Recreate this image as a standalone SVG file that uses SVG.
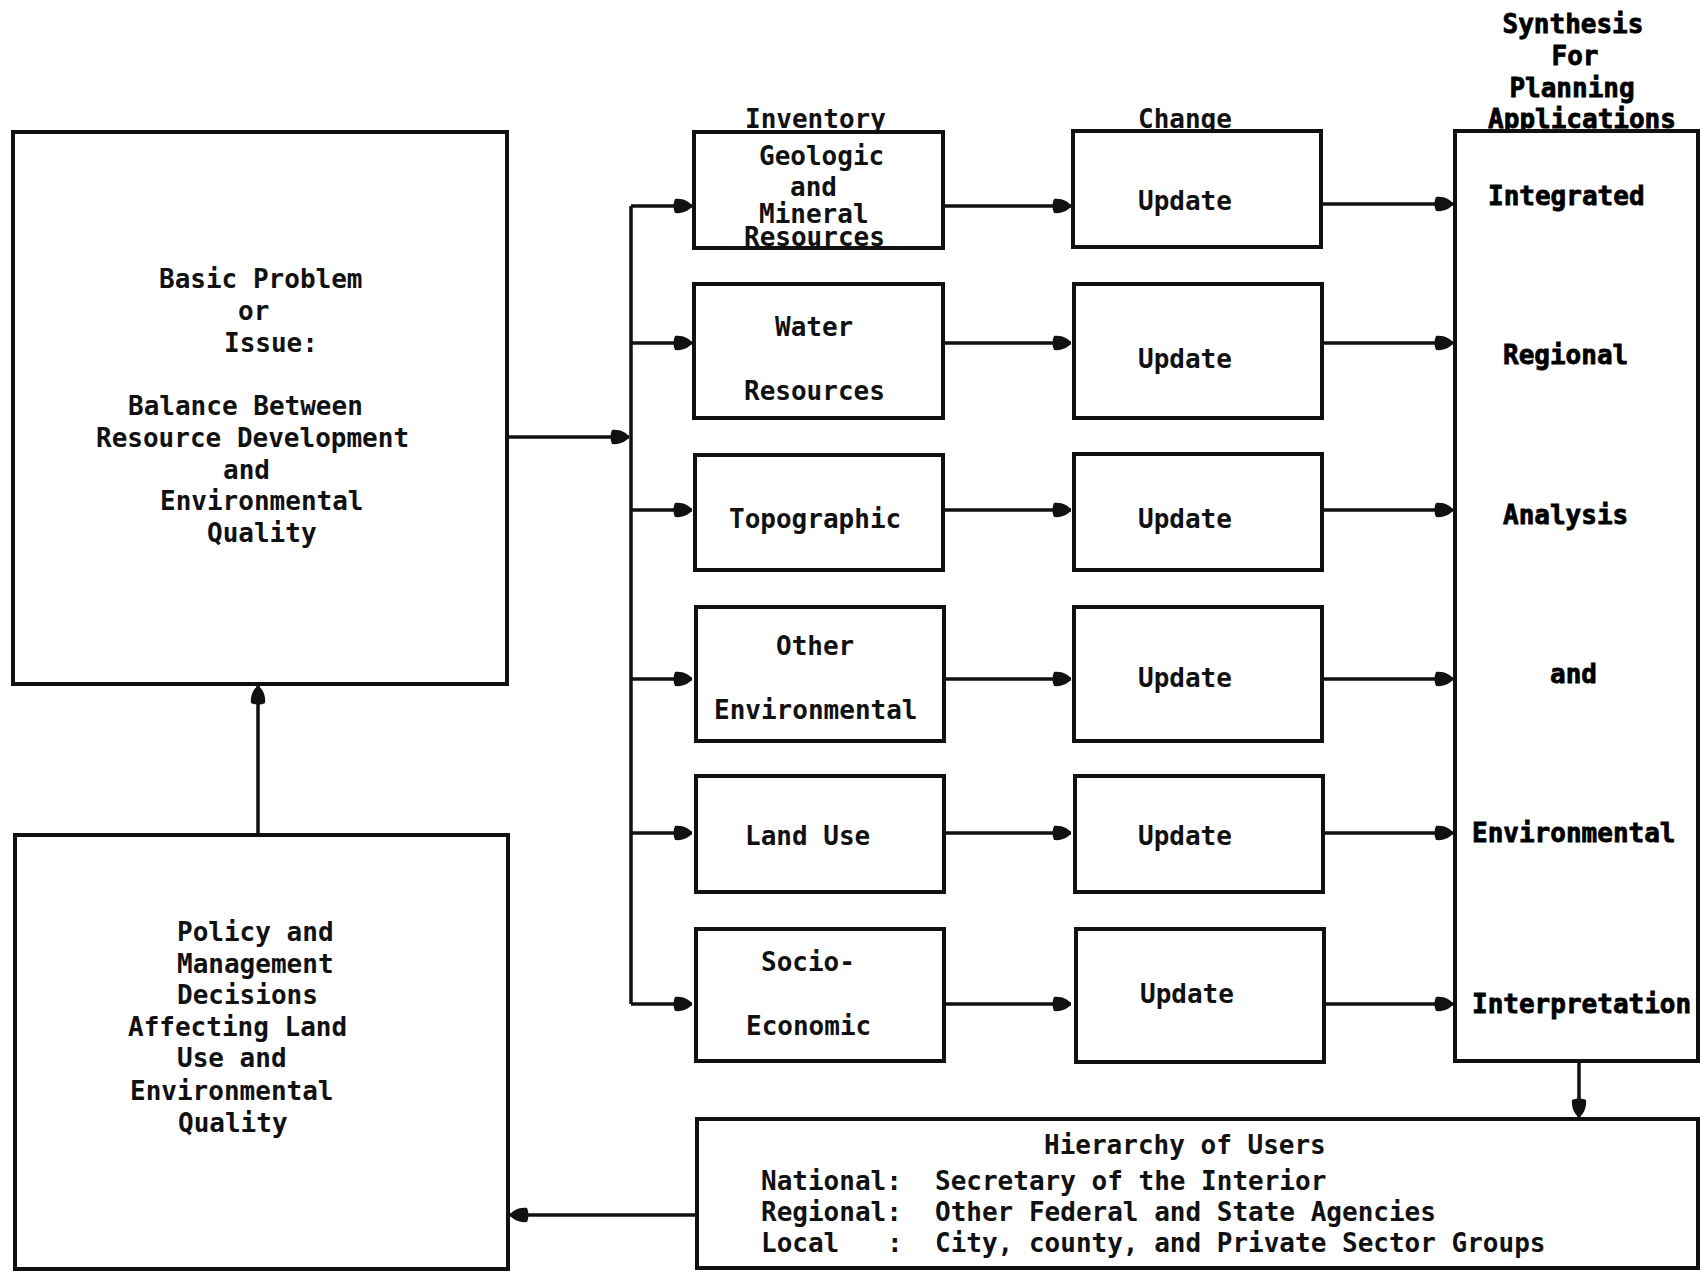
<svg xmlns="http://www.w3.org/2000/svg" width="1700" height="1272" viewBox="0 0 1700 1272">
<style>
.box{fill:#fff;stroke:#111;stroke-width:4}
.ln{fill:none;stroke:#111;stroke-width:3.5}
.t{font-family:"DejaVu Sans Mono","Liberation Mono",monospace;font-weight:bold;font-size:26px;fill:#111}
.s{font-family:"DejaVu Sans Mono","Liberation Mono",monospace;font-weight:bold;font-size:26px;fill:#000;stroke:#000;stroke-width:0.8}
</style>
<defs>
<marker id="ah" markerUnits="userSpaceOnUse" markerWidth="24" markerHeight="24" viewBox="-20 -12 24 24" refX="0" refY="0" orient="auto">
<path d="M-17,-7 C-9,-8 -2,-4 0,0 C-2,4 -9,8 -17,7 C-19,3 -19,-3 -17,-7 Z" fill="#111"/>
</marker>
</defs>
<rect x="0" y="0" width="1700" height="1272" fill="#fff"/>

<g id="connectors">
<path class="ln" d="M258,835 V686" marker-end="url(#ah)"/>
<path class="ln" d="M507,437 H629" marker-end="url(#ah)"/>
<path class="ln" d="M631,206 V1004"/>
<path class="ln" d="M631,206 H692" marker-end="url(#ah)"/>
<path class="ln" d="M631,343 H692" marker-end="url(#ah)"/>
<path class="ln" d="M631,510 H692" marker-end="url(#ah)"/>
<path class="ln" d="M631,679 H692" marker-end="url(#ah)"/>
<path class="ln" d="M631,833 H692" marker-end="url(#ah)"/>
<path class="ln" d="M631,1004 H692" marker-end="url(#ah)"/>
<path class="ln" d="M943,206 H1071" marker-end="url(#ah)"/>
<path class="ln" d="M943,343 H1071" marker-end="url(#ah)"/>
<path class="ln" d="M943,510 H1071" marker-end="url(#ah)"/>
<path class="ln" d="M943,679 H1071" marker-end="url(#ah)"/>
<path class="ln" d="M943,833 H1071" marker-end="url(#ah)"/>
<path class="ln" d="M943,1004 H1071" marker-end="url(#ah)"/>
<path class="ln" d="M1322,204 H1453" marker-end="url(#ah)"/>
<path class="ln" d="M1322,343 H1453" marker-end="url(#ah)"/>
<path class="ln" d="M1322,510 H1453" marker-end="url(#ah)"/>
<path class="ln" d="M1322,679 H1453" marker-end="url(#ah)"/>
<path class="ln" d="M1322,833 H1453" marker-end="url(#ah)"/>
<path class="ln" d="M1322,1004 H1453" marker-end="url(#ah)"/>
<path class="ln" d="M1579,1061 V1117" marker-end="url(#ah)"/>
<path class="ln" d="M697,1215 H510" marker-end="url(#ah)"/>
</g>

<g id="basic-problem">
<rect class="box" x="13" y="132" width="494" height="552"/>
<text class="t" x="159" y="288">Basic Problem</text>
<text class="t" x="238" y="320">or</text>
<text class="t" x="224" y="352">Issue:</text>
<text class="t" x="128" y="415">Balance Between</text>
<text class="t" x="96" y="447">Resource Development</text>
<text class="t" x="223" y="479">and</text>
<text class="t" x="160" y="510">Environmental</text>
<text class="t" x="207" y="542">Quality</text>
</g>

<g id="policy">
<rect class="box" x="15" y="835" width="493" height="434"/>
<text class="t" x="177" y="941">Policy and</text>
<text class="t" x="177" y="973">Management</text>
<text class="t" x="177" y="1004">Decisions</text>
<text class="t" x="128" y="1036">Affecting Land</text>
<text class="t" x="177" y="1067">Use and</text>
<text class="t" x="130" y="1100">Environmental</text>
<text class="t" x="178" y="1132">Quality</text>
</g>

<g id="inventory-header"><text class="t" x="745" y="128">Inventory</text></g>
<g id="change-header"><text class="t" x="1138" y="128">Change</text></g>
<g id="synthesis-header">
<text class="s" x="1573" y="33" text-anchor="middle">Synthesis</text>
<text class="s" x="1575" y="65" text-anchor="middle">For</text>
<text class="s" x="1572" y="97" text-anchor="middle">Planning</text>
<text class="s" x="1582" y="128" text-anchor="middle">Applications</text>
</g>

<g id="inv-geologic">
<rect class="box" x="694" y="132" width="249" height="116"/>
<text class="t" x="759" y="165">Geologic</text>
<text class="t" x="790" y="196">and</text>
<text class="t" x="759" y="223" font-size="25">Mineral</text>
<text class="t" x="744" y="246" font-size="25">Resources</text>
</g>
<g id="inv-water">
<rect class="box" x="694" y="284" width="249" height="134"/>
<text class="t" x="775" y="336">Water</text>
<text class="t" x="744" y="400">Resources</text>
</g>
<g id="inv-topographic">
<rect class="box" x="695" y="455" width="248" height="115"/>
<text class="t" x="729" y="528">Topographic</text>
</g>
<g id="inv-other">
<rect class="box" x="696" y="607" width="248" height="134"/>
<text class="t" x="776" y="655">Other</text>
<text class="t" x="714" y="719">Environmental</text>
</g>
<g id="inv-landuse">
<rect class="box" x="696" y="776" width="248" height="116"/>
<text class="t" x="745" y="845">Land Use</text>
</g>
<g id="inv-socio">
<rect class="box" x="696" y="929" width="248" height="132"/>
<text class="t" x="761" y="971">Socio-</text>
<text class="t" x="746" y="1035">Economic</text>
</g>

<g id="upd-1"><rect class="box" x="1073" y="131" width="248" height="116"/><text class="t" x="1138" y="210">Update</text></g>
<g id="upd-2"><rect class="box" x="1074" y="284" width="248" height="134"/><text class="t" x="1138" y="368">Update</text></g>
<g id="upd-3"><rect class="box" x="1074" y="454" width="248" height="116"/><text class="t" x="1138" y="528">Update</text></g>
<g id="upd-4"><rect class="box" x="1074" y="607" width="248" height="134"/><text class="t" x="1138" y="687">Update</text></g>
<g id="upd-5"><rect class="box" x="1075" y="776" width="248" height="116"/><text class="t" x="1138" y="845">Update</text></g>
<g id="upd-6"><rect class="box" x="1076" y="929" width="248" height="133"/><text class="t" x="1140" y="1003">Update</text></g>

<g id="synthesis">
<rect class="box" x="1455" y="131" width="243" height="930"/>
<text class="s" x="1488" y="205">Integrated</text>
<text class="s" x="1503" y="364">Regional</text>
<text class="s" x="1503" y="524">Analysis</text>
<text class="s" x="1550" y="683">and</text>
<text class="s" x="1472" y="842">Environmental</text>
<text class="s" x="1472" y="1013">Interpretation</text>
</g>

<g id="hierarchy">
<rect class="box" x="697" y="1119" width="1001" height="149"/>
<text class="t" x="1044" y="1154">Hierarchy of Users</text>
<text class="t" x="761" y="1190">National:</text>
<text class="t" x="935" y="1190">Secretary of the Interior</text>
<text class="t" x="761" y="1221">Regional:</text>
<text class="t" x="935" y="1221">Other Federal and State Agencies</text>
<text class="t" x="761" y="1252">Local</text>
<text class="t" x="887" y="1252">:</text>
<text class="t" x="935" y="1252">City, county, and Private Sector Groups</text>
</g>
</svg>
